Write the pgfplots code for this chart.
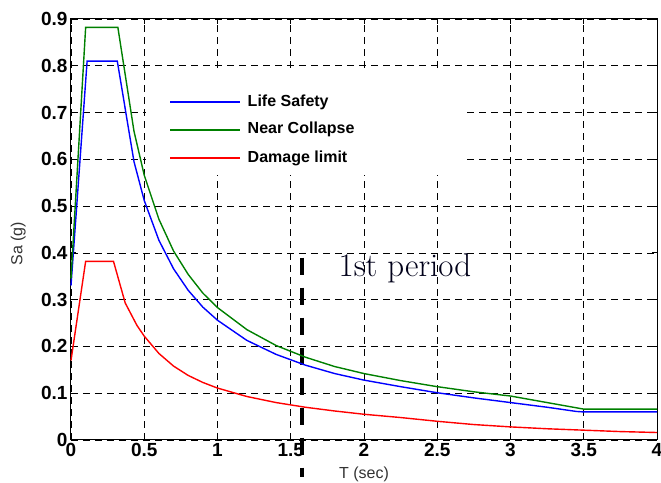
\documentclass[border=0pt]{standalone}
\usepackage{pgfplots}
\pgfplotsset{compat=1.18}
\usepackage{fontspec}
\newfontfamily\arial{Liberation Sans}
\definecolor{mgreen}{rgb}{0,0.5,0}
\begin{document}
\begin{tikzpicture}
\begin{axis}[
  scale only axis, width=586pt, height=421pt,
  xmin=0, xmax=4, ymin=0, ymax=0.9,
  xtick={0,0.5,1,1.5,2,2.5,3,3.5,4},
  ytick={0,0.1,0.2,0.3,0.4,0.5,0.6,0.7,0.8,0.9},
  grid=major,
  major grid style={black, dash pattern=on 7pt off 5pt, line width=0.7pt},
  axis line style={black, line width=1pt},
  tick style={black, line width=0.8pt}, major tick length=5pt,
  /pgf/number format/assume math mode=true,
  ticklabel style={font=\arial\bfseries\fontsize{19}{21}\selectfont},
  xlabel={T (sec)}, ylabel={Sa (g)},
  label style={font=\arial\fontsize{16}{18}\selectfont, color=black!80},
  xlabel style={at={(axis description cs:0.5,-0.081)}, anchor=center},
  ylabel style={at={(axis description cs:-0.09,0.466)}, anchor=center},
  clip=false,
]
% white legend background
\fill[white] (axis cs:0.515,0.784) rectangle (axis cs:2.69,0.566);
\addplot[black, line width=4pt, dash pattern=on 17pt off 13pt, forget plot] coordinates {(1.58,0.39) (1.58,-0.08)};
\addplot[color=blue, line width=1.4pt] coordinates {
(0,0.33) (0.11,0.81) (0.316,0.81) (0.43,0.595) (0.5,0.512) (0.6,0.427) (0.7,0.366) (0.8,0.32) (0.9,0.284) (1.0,0.256) (1.2,0.213) (1.4,0.183) (1.6,0.16) (1.8,0.142) (2.0,0.128) (2.25,0.114) (2.5,0.101) (2.75,0.09) (3.0,0.08) (3.25,0.07) (3.45,0.061) (3.5,0.06) (4,0.06)};
\addplot[color=mgreen, line width=1.4pt] coordinates {
(0,0.345) (0.1,0.882) (0.32,0.882) (0.43,0.66) (0.5,0.566) (0.6,0.472) (0.7,0.404) (0.8,0.354) (0.9,0.314) (1.0,0.283) (1.2,0.236) (1.4,0.202) (1.6,0.177) (1.8,0.157) (2.0,0.142) (2.25,0.127) (2.5,0.114) (2.75,0.103) (3.0,0.094) (3.25,0.08) (3.5,0.066) (4,0.066)};
\addplot[color=red, line width=1.4pt] coordinates {
(0,0.17) (0.1,0.382) (0.29,0.382) (0.37,0.293) (0.45,0.245) (0.5,0.222) (0.6,0.185) (0.7,0.158) (0.8,0.138) (0.9,0.123) (1.0,0.111) (1.2,0.093) (1.4,0.08) (1.6,0.07) (1.8,0.062) (2.0,0.055) (2.25,0.048) (2.5,0.04) (2.75,0.033) (3.0,0.028) (3.25,0.024) (3.5,0.021) (3.75,0.018) (4.0,0.016)};
% legend keys
\addplot[color=blue, line width=1.6pt, forget plot] coordinates {(0.676,0.7225) (1.154,0.7225)};
\addplot[color=mgreen, line width=1.6pt, forget plot] coordinates {(0.676,0.663) (1.154,0.663)};
\addplot[color=red, line width=1.6pt, forget plot] coordinates {(0.676,0.603) (1.154,0.603)};
\node[anchor=west, inner sep=0pt, font=\arial\bfseries\fontsize{16}{18}\selectfont] at (axis cs:1.205,0.7225) {Life Safety};
\node[anchor=west, inner sep=0pt, font=\arial\bfseries\fontsize{16}{18}\selectfont] at (axis cs:1.205,0.663) {Near Collapse};
\node[anchor=west, inner sep=0pt, font=\arial\bfseries\fontsize{16}{18}\selectfont] at (axis cs:1.205,0.603) {Damage limit};
\node[font=\fontsize{33}{35}\selectfont, color=black!90!blue] at (axis cs:2.28,0.368) {1st period};
\coordinate (sw) at (rel axis cs:0,0);
\coordinate (ne) at (rel axis cs:1,1);
\end{axis}
\pgfresetboundingbox
\path[use as bounding box] ([shift={(-71pt,-43pt)}]sw) rectangle ([shift={(4pt,19pt)}]ne);
\end{tikzpicture}
\end{document}
